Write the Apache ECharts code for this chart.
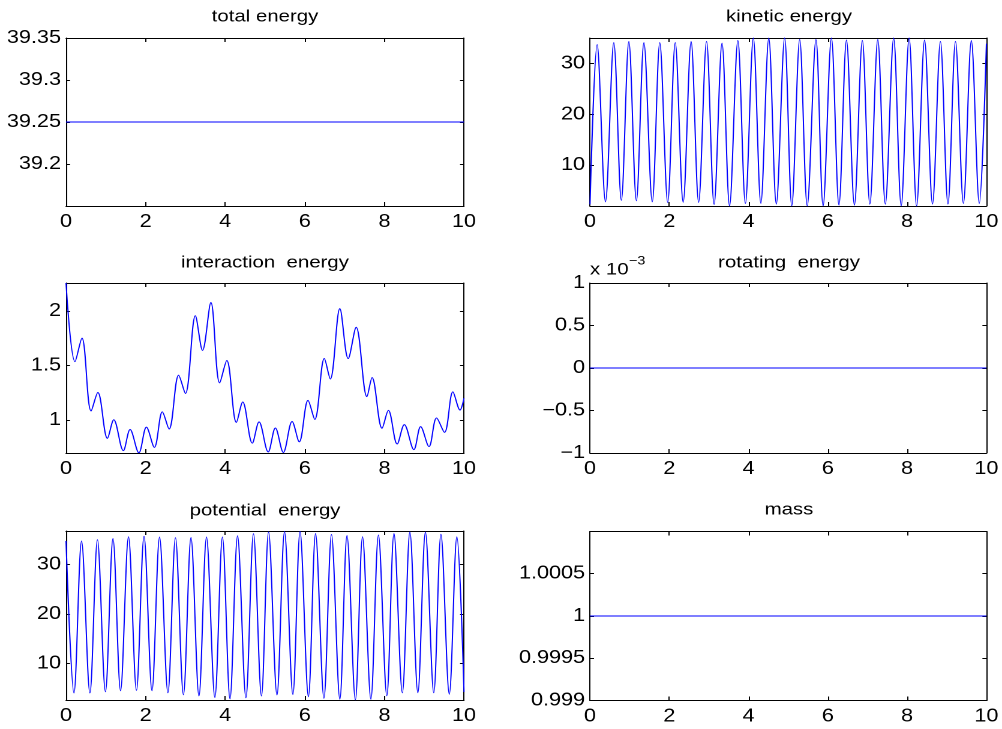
<!DOCTYPE html>
<html><head><meta charset="utf-8">
<script src="https://cdn.jsdelivr.net/npm/echarts@6/dist/echarts.min.js"></script>
<style>
html,body{margin:0;padding:0;background:#fff;overflow:hidden;width:1002px;height:729px}
#c{width:835px;height:729px;transform:scaleX(1.2);transform-origin:0 0}
</style>
</head><body><div id="c"></div>
<script>
// ---- data ----
const xTicks = [0, 2, 4, 6, 8, 10];
const titles = ['total energy', 'kinetic energy', 'interaction  energy', 'rotating  energy', 'potential  energy', 'mass'];

const totalT = [0, 10];
const totalE = [39.25, 39.25];

const kineticT = [0, 0.18, 0.39, 0.60, 0.79, 0.98, 1.17, 1.36, 1.57, 1.76, 1.96, 2.15, 2.35, 2.55, 2.74, 2.94, 3.13, 3.33, 3.52, 3.73, 3.92, 4.12, 4.31, 4.51, 4.70, 4.91, 5.09, 5.29, 5.48, 5.70, 5.88, 6.09, 6.28, 6.47, 6.67, 6.87, 7.06, 7.26, 7.45, 7.66, 7.85, 8.05, 8.24, 8.44, 8.64, 8.84, 9.03, 9.22, 9.42, 9.62, 9.82, 10];
const kineticE = [2.3, 33.7, 2.8, 34.1, 3.1, 34.3, 3.0, 34.1, 2.8, 34.1, 2.7, 34.1, 2.7, 34.3, 2.7, 34.3, 2.3, 34.0, 2.0, 34.5, 2.5, 35.0, 2.5, 35.0, 2.35, 35.0, 2.0, 34.7, 2.0, 34.7, 2.0, 35.0, 2.15, 34.6, 2.15, 34.5, 2.35, 34.7, 2.35, 35.0, 2.0, 35.0, 2.0, 34.6, 2.35, 34.3, 2.35, 34.3, 2.5, 34.5, 2.5, 33.9];

const interT = [0, 0.226, 0.40, 0.63, 0.80, 1.04, 1.20, 1.44, 1.61, 1.83, 2.02, 2.22, 2.42, 2.59, 2.83, 3.00, 3.25, 3.43, 3.64, 3.86, 4.04, 4.28, 4.44, 4.68, 4.85, 5.08, 5.26, 5.46, 5.68, 5.86, 6.08, 6.25, 6.49, 6.64, 6.88, 7.09, 7.29, 7.56, 7.69, 7.94, 8.10, 8.32, 8.50, 8.74, 8.91, 9.12, 9.31, 9.51, 9.72, 9.90, 10];
const interE = [2.255, 1.535, 1.75, 1.083, 1.252, 0.832, 1.003, 0.72, 0.913, 0.70, 0.935, 0.75, 1.075, 0.918, 1.41, 1.243, 1.955, 1.638, 2.076, 1.34, 1.545, 0.978, 1.165, 0.788, 0.983, 0.708, 0.927, 0.703, 0.987, 0.80, 1.18, 1.006, 1.563, 1.376, 2.02, 1.563, 1.85, 1.214, 1.388, 0.925, 1.088, 0.78, 0.958, 0.729, 0.94, 0.757, 1.019, 0.887, 1.258, 1.091, 1.2];

const rotT = [0, 10];
const rotE = [0, 0];

const potT = [0, 0.20, 0.39, 0.60, 0.79, 0.99, 1.18, 1.37, 1.57, 1.77, 1.96, 2.16, 2.35, 2.56, 2.75, 2.95, 3.14, 3.34, 3.53, 3.74, 3.93, 4.12, 4.31, 4.52, 4.71, 4.91, 5.09, 5.30, 5.49, 5.70, 5.88, 6.09, 6.27, 6.48, 6.67, 6.88, 7.06, 7.27, 7.45, 7.66, 7.85, 8.06, 8.24, 8.45, 8.64, 8.84, 9.03, 9.24, 9.42, 9.63, 9.82, 10];
const potE = [34.7, 4.1, 34.7, 4.1, 34.95, 4.35, 35.2, 4.55, 35.55, 4.65, 35.65, 4.55, 35.5, 4.15, 35.35, 3.75, 35.4, 3.5, 35.5, 3.2, 35.5, 2.9, 35.75, 3.15, 36.15, 3.5, 36.5, 3.7, 36.6, 3.8, 36.6, 3.35, 36.2, 3.05, 36.0, 2.85, 35.8, 2.75, 35.55, 2.85, 35.9, 3.55, 36.2, 4.15, 36.5, 4.15, 36.5, 4.15, 36.05, 3.85, 35.55, 4.3];

const massT = [0, 4.85, 10];
const massE = [1, 1, 1];

// ---- helpers ----
const S = 1.2;               // horizontal stretch of the whole figure (text in the reference is wide)
const X = px => px / S;      // page x -> chart x
const FONT = '"Liberation Sans", Arial, Helvetica, sans-serif';
const pairs = (t, v) => t.map((x, i) => [x, v[i]]);
const mult = step => v => {
  const k = v / step;
  return Math.abs(k - Math.round(k)) < 1e-6 ? String(+(Math.round(k) * step).toFixed(4)) : '';
};
const minus = s => (s < 0 ? '\u2212' + String(-s) : String(s));

const panels = [
  {t: totalT, v: totalE, x: 66, y: 38, h: 168, min: 39.15, max: 39.35, step: 0.05, fixed: true,
   fmt: v => Math.abs(v - 39.15) < 1e-9 ? '' : String(+v.toFixed(2)), smooth: false},
  {t: kineticT, v: kineticE, x: 590, y: 38, h: 168, min: 1.98, max: 35.0, step: 10, fixed: false, fmt: mult(10), smooth: 0.35},
  {t: interT, v: interE, x: 66, y: 283, h: 170, min: 0.698, max: 2.255, step: 0.5, fixed: false, fmt: mult(0.5), smooth: 0.35},
  {t: rotT, v: rotE, x: 590, y: 283, h: 170, min: -0.001, max: 0.001, step: 0.0005, fixed: true,
   fmt: v => minus(Math.round(v * 1e4) / 10 || 0), smooth: false},
  {t: potT, v: potE, x: 66, y: 531, h: 169, min: 2.7, max: 36.7, step: 10, fixed: false, fmt: mult(10), smooth: 0.35},
  {t: massT, v: massE, x: 590, y: 531.5, h: 169, min: 0.999, max: 1.001, step: 0.0005, fixed: true,
   fmt: v => Math.abs(v - 1.001) < 1e-9 ? '' : String(+v.toFixed(4)), smooth: false}
];
const W = 398;

const grid = [], xAxis = [], yAxis = [], series = [];
const lineStyle = {color: '#000', width: 1};
const tick = {show: true, inside: true, length: 4, lineStyle: {color: '#000', width: 1}};
const lab = {color: '#000', fontSize: 18, fontFamily: FONT};

panels.forEach((p, i) => {
  grid.push({left: X(p.x), top: p.y, width: X(W), height: p.h, containLabel: false});
  const xBase = {type: 'value', gridIndex: i, min: xTicks[0], max: xTicks[xTicks.length - 1], interval: xTicks[1] - xTicks[0],
    axisLine: {show: true, onZero: false, lineStyle}, axisTick: tick, splitLine: {show: false}};
  xAxis.push(Object.assign({}, xBase, {position: 'bottom',
    axisLabel: Object.assign({}, lab, {margin: 7, formatter: v => String(v)})}));
  xAxis.push(Object.assign({}, xBase, {position: 'top', axisLabel: {show: false}}));
  const yBase = {type: 'value', gridIndex: i, min: p.min, max: p.max, scale: true,
    axisLine: {show: true, onZero: false, lineStyle}, axisTick: Object.assign({}, tick, {length: 4 / S}), splitLine: {show: false}};
  if (p.fixed) yBase.interval = p.step; else { yBase.minInterval = p.step; yBase.maxInterval = p.step; }
  yAxis.push(Object.assign({}, yBase, {position: 'left',
    axisLabel: Object.assign({}, lab, {margin: X(5), formatter: p.fmt, showMinLabel: true, showMaxLabel: true})}));
  yAxis.push(Object.assign({}, yBase, {position: 'right', axisLabel: {show: false}}));
  series.push({type: 'line', xAxisIndex: 2 * i, yAxisIndex: 2 * i, data: pairs(p.t, p.v),
    showSymbol: false, symbol: 'none', smooth: p.smooth, clip: true,
    lineStyle: {color: '#0000ff', width: 1}, silent: true});
});

const titleFont = '17px ' + FONT;
const titlePos = [[265, 17], [789, 17], [265, 263], [789, 263], [265, 511], [789, 510]];
const graphic = titles.map((txt, i) => ({type: 'text', x: X(titlePos[i][0]), y: titlePos[i][1], silent: true,
  style: {text: txt, fill: '#000', font: titleFont, textAlign: 'center', textVerticalAlign: 'middle'}}));
graphic.push({type: 'text', x: X(590), y: 270, silent: true,
  style: {text: 'x 10', fill: '#000', font: '17px ' + FONT, textAlign: 'left', textVerticalAlign: 'middle'}});
graphic.push({type: 'text', x: X(629), y: 261, silent: true,
  style: {text: '\u22123', fill: '#000', font: '12px ' + FONT, textAlign: 'left', textVerticalAlign: 'middle'}});

const chart = echarts.init(document.getElementById('c'), null, {renderer: 'canvas', devicePixelRatio: 2});
chart.setOption({animation: false, backgroundColor: '#fff', grid, xAxis, yAxis, series, graphic});
</script></body></html>
